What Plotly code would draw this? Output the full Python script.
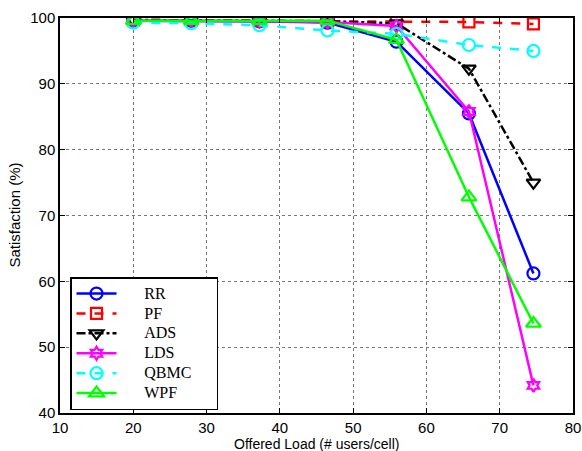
import plotly.graph_objects as go

load = [20, 27.9, 37.2, 46.5, 55.9, 65.8, 74.6]
rr   = [99.6, 99.6, 99.5, 99.3, 96.4, 85.5, 61.2]
pf   = [99.7, 99.7, 99.6, 99.5, 99.4, 99.4, 99.1]
ads  = [99.7, 99.7, 99.6, 99.5, 99.2, 92.3, 75.0]
lds  = [99.6, 99.6, 99.5, 99.4, 98.8, 85.8, 44.2]
qbmc = [99.3, 99.2, 98.9, 98.1, 97.6, 95.9, 95.0]
wpf  = [99.6, 99.6, 99.6, 99.6, 96.7, 72.8, 53.6]

x_title = "Offered Load (# users/cell)"
y_title = "Satisfaction (%)"

series = [
    ("RR", rr, "#0000ff", "solid", "circle-open", 12),
    ("PF", pf, "#ff0000", "dash", "square-open", 11),
    ("ADS", ads, "#000000", "dashdot", "triangle-down-open", 12),
    ("LDS", lds, "#ff00ff", "solid", "hexagram-open", 10),
    ("QBMC", qbmc, "#00ffff", "dash", "circle-open", 12),
    ("WPF", wpf, "#00ff00", "solid", "triangle-up-open", 13),
]

pad = "\u00a0" * 7
tail = "\u00a0" * 6
fig = go.Figure()
for name, vals, col, dash, sym, sz in series:
    fig.add_trace(go.Scatter(
        x=load, y=vals, mode="lines+markers",
        name=pad + '<span style="font-size:16px">' + name + "</span>" + tail,
        line=dict(color=col, width=2.5, dash=dash),
        marker=dict(symbol=sym, size=sz, color=col, line=dict(color=col, width=2.2)),
    ))

axis_common = dict(
    showline=True, linecolor="black", linewidth=1.5, mirror="allticks",
    ticks="inside", ticklen=5, tickcolor="black",
    showgrid=True, gridcolor="#777777", gridwidth=1, griddash="dot",
    zeroline=False, automargin=False,
    tickfont=dict(family="Liberation Sans, Arial", size=15, color="black"),
)

fig.update_xaxes(range=[10, 80], dtick=10, tick0=10, **axis_common)
fig.update_yaxes(range=[40, 100], dtick=10, tick0=40, **axis_common)

fig.add_annotation(text=x_title, xref="paper", yref="paper", x=0.5, y=0,
                   xanchor="center", yanchor="middle", yshift=-31, showarrow=False,
                   font=dict(family="Liberation Sans, Arial", size=14, color="black"))
fig.add_annotation(text=y_title, xref="paper", yref="paper", x=0, y=0.5,
                   xanchor="center", yanchor="middle", xshift=-46, textangle=-90,
                   showarrow=False,
                   font=dict(family="Liberation Sans, Arial", size=15, color="black"))

fig.update_layout(
    width=582, height=451,
    margin=dict(l=60, r=9, t=18, b=38),
    plot_bgcolor="white", paper_bgcolor="white",
    legend=dict(x=0.0195, y=0.344, xanchor="left", yanchor="top",
                bgcolor="white", bordercolor="black", borderwidth=1.5,
                font=dict(family="Liberation Serif, Times New Roman", size=13, color="black"),
                itemwidth=40, tracegroupgap=0),
)

fig.write_html("out.html", config={"displayModeBar": False},
               post_script="document.body.style.margin='0';document.body.style.overflow='hidden';")
